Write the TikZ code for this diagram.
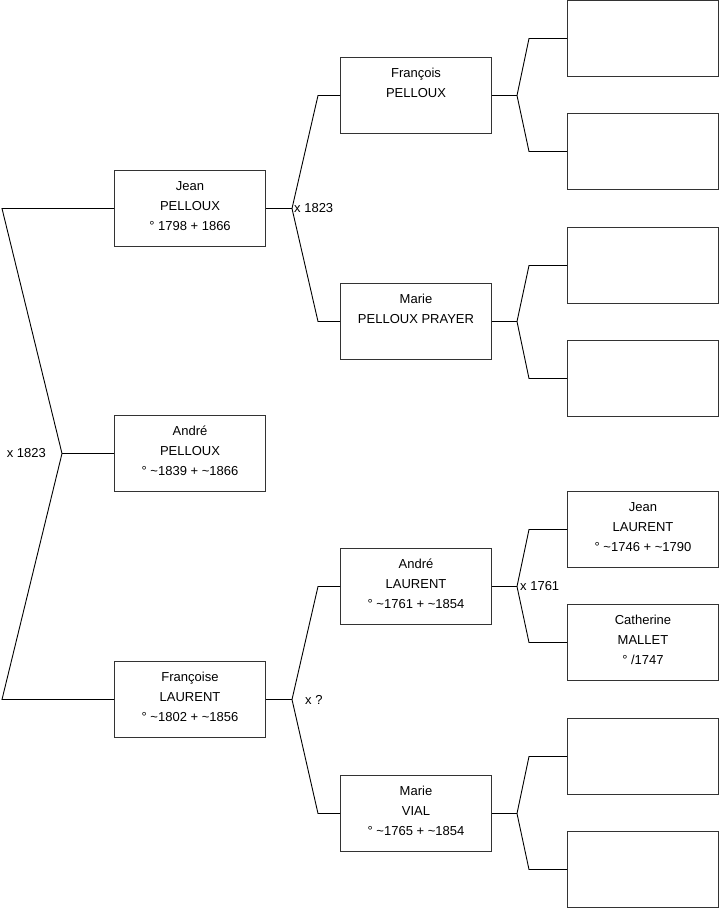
\documentclass[tikz,border=0pt]{standalone}
\usepackage{fontspec}
\setmainfont{Liberation Sans}
\usetikzlibrary{positioning,calc}
\newcommand\pers[1]{\parbox[t]{151pt}{\centering #1}}

\begin{document}
\begin{tikzpicture}[x=1pt,y=-1pt,
  p/.style={draw=black!80,fill=white,line width=1pt,minimum width=151pt,inner sep=0pt,text height=20pt,text depth=56pt,anchor=north west,font=\fontsize{13}{20}\selectfont},
  l/.style={black,line width=0.9pt},
  m/.style={font=\fontsize{13}{15}\selectfont,inner sep=0pt}]
  \fill[white] (0,0) rectangle (719,908);
  \useasboundingbox (0,0) rectangle (719,908);

  \node[p] (jean) at (114,170) {\pers{Jean\\PELLOUX\\° 1798 + 1866}};
  \node[p] (andre) at (114,415) {\pers{André\\PELLOUX\\° \textasciitilde1839 + \textasciitilde1866}};
  \node[p] (francoise) at (114,661) {\pers{Françoise\\LAURENT\\° \textasciitilde1802 + \textasciitilde1856}};

  \node[p] (francois) at (340,57) {\pers{François\\PELLOUX}};
  \node[p] (marieP) at (340,283) {\pers{Marie\\PELLOUX PRAYER}};
  \node[p] (andreL) at (340,548) {\pers{André\\LAURENT\\° \textasciitilde1761 + \textasciitilde1854}};
  \node[p] (marieV) at (340,775) {\pers{Marie\\VIAL\\° \textasciitilde1765 + \textasciitilde1854}};

  \node[p] (francoisF) at (567,0) {};
  \node[p] (francoisM) at (567,113) {};
  \node[p] (marieF) at (567,227) {};
  \node[p] (marieM) at (567,340) {};
  \node[p] (jeanL) at (567,491) {\pers{Jean\\LAURENT\\° \textasciitilde1746 + \textasciitilde1790}};
  \node[p] (catherine) at (567,604) {\pers{Catherine\\MALLET\\° /1747}};
  \node[p] (vialF) at (567,718) {};
  \node[p] (vialM) at (567,831) {};

  \coordinate (xroot) at ($(andre.west)+(-52,0)$);
  \draw[l] (andre.west) -- (xroot);
  \draw[l] (xroot) -- ([xshift=-112pt]jean.west) -- (jean.west);
  \draw[l] (xroot) -- ([xshift=-112pt]francoise.west) -- (francoise.west);
  \node[m,left=16pt of xroot] (mroot) {x 1823};

  \coordinate (xjean) at ($(jean.east)+(26,0)$);
  \draw[l] (jean.east) -- (xjean);
  \draw[l] (xjean) -- ([xshift=-22pt]francois.west) -- (francois.west);
  \draw[l] (xjean) -- ([xshift=-22pt]marieP.west) -- (marieP.west);
  \node[m,right=2pt of xjean] (mjean) {x 1823};

  \coordinate (xfrancoise) at ($(francoise.east)+(26,0)$);
  \draw[l] (francoise.east) -- (xfrancoise);
  \draw[l] (xfrancoise) -- ([xshift=-22pt]andreL.west) -- (andreL.west);
  \draw[l] (xfrancoise) -- ([xshift=-22pt]marieV.west) -- (marieV.west);
  \node[m,right=13pt of xfrancoise] (mfrancoise) {x ?};

  \coordinate (xfrancois) at ($(francois.east)+(25,0)$);
  \draw[l] (francois.east) -- (xfrancois);
  \draw[l] (xfrancois) -- ([xshift=-38pt]francoisF.west) -- (francoisF.west);
  \draw[l] (xfrancois) -- ([xshift=-38pt]francoisM.west) -- (francoisM.west);

  \coordinate (xmarieP) at ($(marieP.east)+(25,0)$);
  \draw[l] (marieP.east) -- (xmarieP);
  \draw[l] (xmarieP) -- ([xshift=-38pt]marieF.west) -- (marieF.west);
  \draw[l] (xmarieP) -- ([xshift=-38pt]marieM.west) -- (marieM.west);

  \coordinate (xandreL) at ($(andreL.east)+(25,0)$);
  \draw[l] (andreL.east) -- (xandreL);
  \draw[l] (xandreL) -- ([xshift=-38pt]jeanL.west) -- (jeanL.west);
  \draw[l] (xandreL) -- ([xshift=-38pt]catherine.west) -- (catherine.west);
  \node[m,right=3pt of xandreL] (mandreL) {x 1761};

  \coordinate (xmarieV) at ($(marieV.east)+(25,0)$);
  \draw[l] (marieV.east) -- (xmarieV);
  \draw[l] (xmarieV) -- ([xshift=-38pt]vialF.west) -- (vialF.west);
  \draw[l] (xmarieV) -- ([xshift=-38pt]vialM.west) -- (vialM.west);
\end{tikzpicture}
\end{document}
